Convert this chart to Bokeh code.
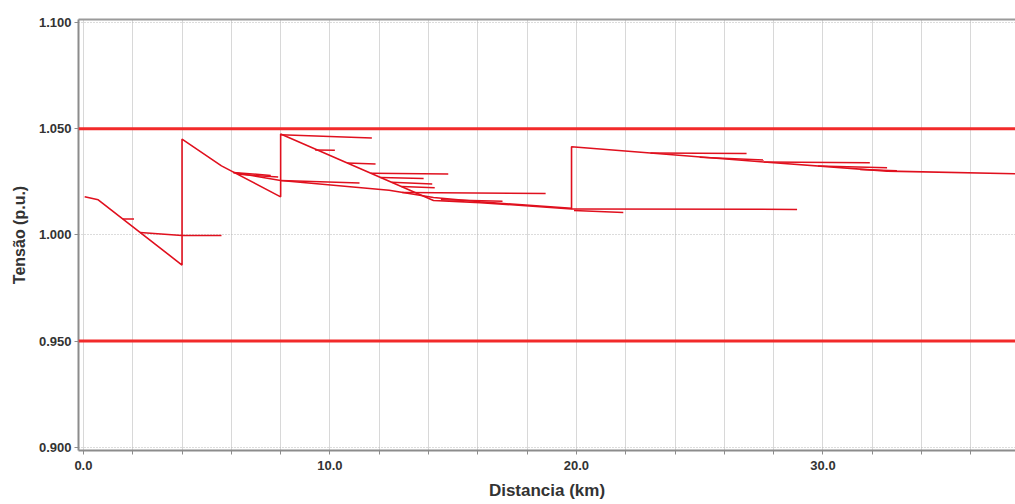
from bokeh.plotting import figure
from bokeh.models import Span, FixedTicker, LinearAxis, Range1d
from bokeh.embed import file_html
from bokeh.resources import INLINE

# ---- data (distance in km, voltage in p.u.) ----
# main feeder path, including the regulator steps at 4, 8 and 19.8 km
trunk_km = [0.05, 0.6, 4.0, 4.0, 5.6, 8.0, 8.0, 14.2, 16.1, 19.8, 19.8, 27.6, 32.6, 38.5]
trunk_pu = [1.0180, 1.0165, 0.9858, 1.0451, 1.0325, 1.0179, 1.0475, 1.0162, 1.0152, 1.0122,
            1.0415, 1.0343, 1.0300, 1.0286]

# lateral branches
branch_km = [
    [1.6, 2.05],
    [2.3, 4.0, 5.6],
    [6.08, 8.0, 12.4, 14.2, 16.1, 19.8],
    [6.08, 7.6],
    [6.3, 7.9],
    [8.0, 11.7],
    [9.4, 10.2],
    [10.7, 11.85],
    [11.66, 14.8],
    [12.05, 13.8],
    [12.5, 14.15],
    [12.9, 14.25],
    [8.0, 11.2],
    [12.93, 18.75],
    [14.5, 17.0],
    [19.9, 21.9],
    [19.8, 28.95],
    [23.0, 26.9],
    [25.0, 27.6],
    [27.6, 31.9],
    [29.8, 32.6],
    [31.5, 33.0],
]
branch_pu = [
    [1.0075, 1.0075],
    [1.0011, 0.9997, 0.9997],
    [1.0294, 1.0256, 1.0210, 1.0176, 1.0156, 1.0125],
    [1.0294, 1.0280],
    [1.0285, 1.0272],
    [1.0472, 1.0456],
    [1.0400, 1.0398],
    [1.0338, 1.0334],
    [1.0290, 1.0287],
    [1.0270, 1.0266],
    [1.0248, 1.0240],
    [1.0228, 1.0222],
    [1.0256, 1.0244],
    [1.0200, 1.0195],
    [1.0165, 1.0158],
    [1.0115, 1.0105],
    [1.0122, 1.0120],
    [1.0385, 1.0383],
    [1.0366, 1.0352],
    [1.0343, 1.0340],
    [1.0324, 1.0316],
    [1.0308, 1.0302],
]

limits_pu = [1.05, 0.95]

y_ticks = [0.90, 0.95, 1.00, 1.05, 1.10]
x_ticks = list(range(0, 40, 2))
x_labels = {t: (f"{t:.1f}" if t % 10 == 0 else "") for t in x_ticks}

# ---- figure ----
p = figure(width=1015, height=504, output_backend="svg", toolbar_location=None,
           x_range=Range1d(-0.2, 37.81), y_range=Range1d(0.8985, 1.1014),
           min_border_left=78, min_border_right=0, min_border_top=19, min_border_bottom=54)
p.outline_line_color = None
p.background_fill_color = "white"

FONT = "Liberation Sans"
TXT = "#333333"

for ax in (p.xaxis[0], p.yaxis[0]):
    ax.axis_line_color = "#8c8c8c"
    ax.axis_line_width = 2
    ax.major_tick_line_color = "#8c8c8c"
    ax.major_tick_in = 0
    ax.major_tick_out = 4
    ax.minor_tick_line_color = None
    ax.major_label_text_font = FONT
    ax.major_label_text_font_style = "bold"
    ax.major_label_text_font_size = "13px"
    ax.major_label_text_color = TXT
    ax.axis_label_text_font = FONT
    ax.axis_label_text_font_style = "bold"
    ax.axis_label_text_color = TXT

p.xaxis.ticker = FixedTicker(ticks=x_ticks)
p.xaxis.major_label_overrides = x_labels
p.xaxis.axis_label = "Distancia (km)"
p.xaxis.axis_label_text_font_size = "17px"
p.xaxis.major_label_standoff = 6
p.xaxis.axis_label_standoff = 8

p.yaxis.ticker = FixedTicker(ticks=y_ticks)
p.yaxis.major_label_overrides = {t: f"{t:.3f}" for t in y_ticks}
p.yaxis.axis_label = "Tensão (p.u.)"
p.yaxis.axis_label_text_font_size = "16px"
p.yaxis.major_label_standoff = 3
p.yaxis.axis_label_standoff = 8

# top border
top = LinearAxis(ticker=FixedTicker(ticks=[]), axis_line_color="#9a9a9a", axis_line_width=2,
                 major_label_text_font_size="0px", major_tick_line_color=None,
                 minor_tick_line_color=None)
p.add_layout(top, "above")

# grids
p.xgrid.ticker = FixedTicker(ticks=x_ticks)
p.xgrid.grid_line_color = "#d8d8d8"
p.xgrid.grid_line_width = 1
p.ygrid.ticker = FixedTicker(ticks=y_ticks)
p.ygrid.grid_line_color = "#b8b8b8"
p.ygrid.grid_line_dash = "1 2"

# limit lines
for v in limits_pu:
    p.add_layout(Span(location=v, dimension="width", line_color="#f22a2a", line_width=3))

# profile
RED = "#e0101e"
p.multi_line(xs=branch_km, ys=branch_pu, line_color=RED, line_width=1.5)
p.line(trunk_km, trunk_pu, line_color=RED, line_width=1.6)

open("out.html", "w").write(file_html(p, INLINE))
